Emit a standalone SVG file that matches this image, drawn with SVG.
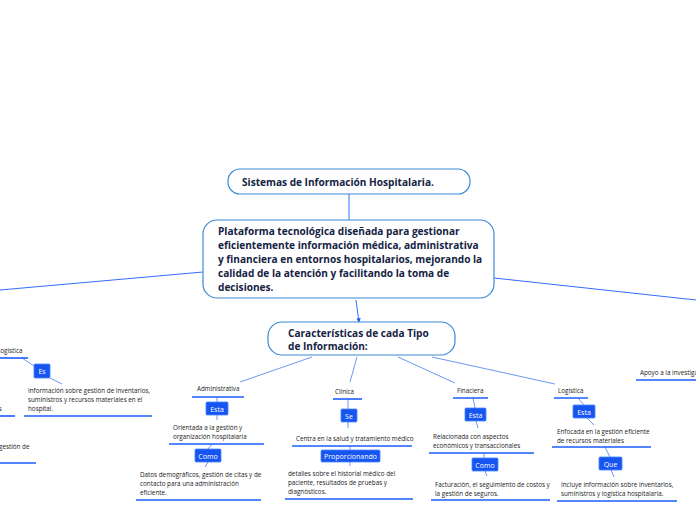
<svg xmlns="http://www.w3.org/2000/svg" width="696" height="520" viewBox="0 0 696 520">
<defs>
<style>
.n{fill:#fff;stroke:#3b8ad6;stroke-width:1.2}
.t{font-family:"Open Sans","Noto Sans",sans-serif;font-weight:bold;font-size:10.1px;fill:#142343}
.s{font-family:"Open Sans","Noto Sans",sans-serif;font-size:6.3px;fill:#222}
.u{stroke:#1a5cff;stroke-width:1.6}
.c{stroke:#5b8cf0;stroke-width:0.9;fill:none}
.b{fill:#1655f0;stroke:#4a86ff;stroke-width:0.8}
.bt{font-family:"Open Sans","Noto Sans",sans-serif;font-size:7px;fill:#fff;text-anchor:middle}
</style>
<marker id="a" viewBox="0 0 6 6" refX="5" refY="3" markerWidth="5" markerHeight="5" orient="auto"><path d="M0,0L6,3L0,6z" fill="#1a5cff"/></marker>
</defs>
<rect width="696" height="520" fill="#fff"/>
<g id="connectors">
<path class="c" d="M349,194V220" style="stroke:#1a5cff"/>
<path class="c" d="M356,300L359,322" style="stroke:#1a5cff" marker-end="url(#a)"/>
<path class="c" d="M203,272L0,290" style="stroke:#1a5cff"/>
<path class="c" d="M494,278L696,300" style="stroke:#1a5cff"/>
<path class="c" d="M312,357L240,382"/>
<path class="c" d="M357,357L350,382"/>
<path class="c" d="M398,357L455,383"/>
<path class="c" d="M432,357L555,384"/>
<path class="c" d="M217,397V402M217,415V420"/>
<path class="c" d="M212,444L208,449M208,462L205,467"/>
<path class="c" d="M348,399V409M348,422V428"/>
<path class="c" d="M350,446V450M350,462V466"/>
<path class="c" d="M473,398L475,408M476,421L478,428"/>
<path class="c" d="M484,453V458M485,471L487,476"/>
<path class="c" d="M578,398L584,405M587,418L594,425"/>
<path class="c" d="M605,447L610,457M611,470L614,477"/>
<path class="c" d="M22,358L34,366M50,378L62,384"/>
</g>
<g id="root"><rect class="n" x="228" y="169" width="242" height="25" rx="12"/><text class="t" x="242" y="186">Sistemas de Información Hospitalaria.</text></g>
<g id="main"><rect class="n" x="203" y="220" width="291" height="78" rx="14"/>
<text class="t" x="218" y="235">Plataforma tecnológica diseñada para gestionar</text>
<text class="t" x="218" y="249">eficientemente información médica, administrativa</text>
<text class="t" x="218" y="263">y financiera en entornos hospitalarios, mejorando la</text>
<text class="t" x="218" y="277">calidad de la atención y facilitando la toma de</text>
<text class="t" x="218" y="291">decisiones.</text></g>
<g id="caract"><rect class="n" x="268" y="322" width="187" height="33" rx="14"/>
<text class="t" x="288" y="337">Características de cada Tipo</text>
<text class="t" x="288" y="350">de Información:</text></g>
<g id="admin"><text class="s" x="197" y="391">Administrativa</text><path class="u" d="M192,397H244"/>
<rect class="b" x="206" y="402" width="22" height="13" rx="1"/><text class="bt" x="217" y="411.5">Esta</text>
<text class="s" x="173" y="430">Orientada a la gestión y</text><text class="s" x="173" y="439">organización hospitalaria</text><path class="u" d="M169,444H264"/>
<rect class="b" x="195" y="449" width="26" height="13" rx="1"/><text class="bt" x="208" y="458.5">Como</text>
<text class="s" x="140" y="477">Datos demográficos, gestión de citas y de</text><text class="s" x="140" y="486">contacto para una administración</text><text class="s" x="140" y="495">eficiente.</text><path class="u" d="M136,500H261"/></g>
<g id="clinica"><text class="s" x="335" y="394">Clínica</text><path class="u" d="M333,399H362"/>
<rect class="b" x="341" y="409" width="16" height="13" rx="1"/><text class="bt" x="349" y="418.5">Se</text>
<text class="s" x="296" y="441">Centra en la salud y tratamiento médico</text><path class="u" d="M292,446H412"/>
<rect class="b" x="321" y="450" width="59" height="12" rx="1"/><text class="bt" x="350.5" y="458.5">Proporcionando</text>
<text class="s" x="288" y="476">detalles sobre el historial médico del</text><text class="s" x="288" y="485">paciente, resultados de pruebas y</text><text class="s" x="288" y="494">diagnósticos.</text><path class="u" d="M285,499H413"/></g>
<g id="financiera"><text class="s" x="457" y="393">Finaciera</text><path class="u" d="M453,398H488"/>
<rect class="b" x="465" y="408" width="21" height="13" rx="1"/><text class="bt" x="475.5" y="417.5">Esta</text>
<text class="s" x="433" y="439">Relacionada con aspectos</text><text class="s" x="433" y="448">económicos y transaccionales</text><path class="u" d="M429,453H534"/>
<rect class="b" x="472" y="458" width="26" height="13" rx="1"/><text class="bt" x="485" y="467.5">Como</text>
<text class="s" x="435" y="487">Facturación, el seguimiento de costos y</text><text class="s" x="435" y="496">la gestión de seguros.</text><path class="u" d="M431,500H550"/></g>
<g id="logistica"><text class="s" x="558" y="393">Logística</text><path class="u" d="M554,398H588"/>
<rect class="b" x="573" y="405" width="22" height="13" rx="1"/><text class="bt" x="584" y="414.5">Esta</text>
<text class="s" x="557" y="434">Enfocada en la gestión eficiente</text><text class="s" x="557" y="443">de recursos materiales</text><path class="u" d="M552,447H651"/>
<rect class="b" x="599" y="457" width="23" height="13" rx="1"/><text class="bt" x="610.5" y="466.5">Que</text>
<text class="s" x="561" y="487">Incluye información sobre inventarios,</text><text class="s" x="561" y="496">suministros y logística hospitalaria.</text><path class="u" d="M557,501H677"/></g>
<g id="apoyo"><text class="s" x="640" y="375">Apoyo a la investigación</text><path class="u" d="M636,380H696"/></g>
<g id="left-logistica"><text class="s" x="-3" y="353">Logística</text><path class="u" d="M0,358H28"/>
<rect class="b" x="34" y="364" width="16" height="14" rx="1"/><text class="bt" x="42" y="373.5">Es</text>
<text class="s" x="28" y="393">Información sobre gestión de inventarios,</text><text class="s" x="28" y="402">suministros y recursos materiales en el</text><text class="s" x="28" y="411">hospital.</text><path class="u" d="M24,416H152"/></g>
<g id="left-s"><text class="s" x="-5" y="411">os</text><path class="u" d="M0,416H15"/></g>
<g id="left-gestion"><text class="s" x="-1" y="449">gestión de</text><path class="u" d="M0,463H36"/></g>
</svg>
